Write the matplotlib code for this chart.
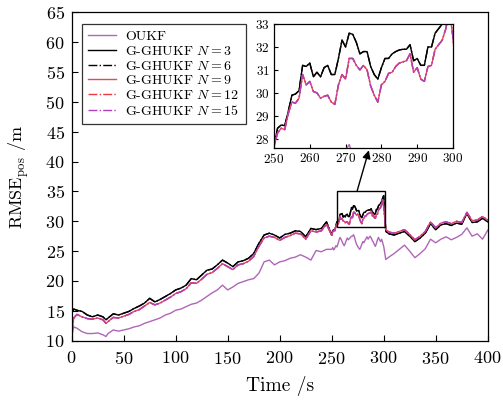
import numpy as np
import matplotlib
matplotlib.use("Agg")
import matplotlib.pyplot as plt
from matplotlib.patches import Rectangle

plt.rcParams['font.family'] = 'serif'
plt.rcParams['font.serif'] = ['cmr10']
plt.rcParams['mathtext.fontset'] = 'cm'
plt.rcParams['axes.formatter.use_mathtext'] = True

# time grid: coarse before 250 s, 1 s inside the zoomed window, coarse after 300 s
t_a = [0, 2, 5, 10, 15, 20, 25, 30, 33, 35, 40, 45, 50, 55, 60, 65, 70, 75, 80, 85,
       90, 95, 100, 105, 110, 115, 120, 125, 130, 135, 140, 145, 150, 155, 160, 165,
       170, 175, 180, 185, 190, 195, 200, 205, 210, 215, 220, 225, 230, 235, 240, 245]
t_b = list(range(250, 301))
t_c = [302, 305, 310, 315, 320, 325, 330, 335, 340, 345, 350, 355, 360, 365, 370,
       375, 380, 385, 390, 395, 400]

# OUKF
oukf_a = [10.7, 12.3, 12.1, 11.5, 11.2, 11.2, 11.3, 11.0, 10.7, 11.2, 11.8, 11.6, 11.8,
          12.0, 12.3, 12.5, 12.9, 13.2, 13.5, 13.8, 14.3, 14.6, 15.1, 15.3, 15.7, 16.1,
          16.3, 16.8, 17.4, 18.0, 18.5, 19.3, 18.5, 19.0, 19.6, 19.9, 20.2, 20.4, 21.3,
          23.2, 23.5, 22.7, 23.2, 23.4, 23.8, 24.0, 24.4, 24.0, 23.5, 25.1, 24.9, 25.3]
oukf_b = [25.3, 25.6, 25.2, 25.5, 25.9, 25.7, 26.2, 26.8, 27.3, 27.0, 26.6, 26.2, 25.9,
          26.3, 26.8, 27.2, 26.9, 27.1, 27.3, 27.5, 27.5, 27.75, 27.3, 26.6, 26.1, 25.8,
          25.5, 25.3, 25.7, 26.2, 26.6, 26.4, 26.8, 27.1, 27.4, 27.0, 27.3, 27.5, 27.2,
          26.8, 26.5, 26.1, 25.8, 26.3, 26.9, 27.3, 26.9, 26.6, 27.0, 26.4, 25.8]
oukf_c = [23.6, 24.0, 24.6, 25.3, 26.0, 25.0, 23.9, 24.6, 25.4, 27.0, 26.4, 27.0, 27.4,
          26.9, 27.3, 27.8, 28.9, 27.5, 27.9, 27.0, 28.5]

# G-GHUKF N = 3
n3_a = [14.6, 15.3, 15.1, 14.9, 14.3, 14.0, 14.3, 14.0, 13.5, 13.8, 14.5, 14.3, 14.6,
        14.9, 15.4, 15.8, 16.3, 17.1, 16.5, 16.9, 17.4, 17.9, 18.5, 18.8, 19.3, 20.4,
        20.2, 21.0, 21.8, 22.0, 22.7, 23.5, 23.0, 22.4, 23.2, 23.4, 23.8, 24.6, 26.3,
        27.7, 28.0, 27.7, 27.2, 27.8, 28.0, 28.4, 28.3, 27.4, 28.8, 28.6, 28.8, 29.9]
n3_b = [27.67, 28.46, 28.6, 28.57, 29.2, 29.9, 29.95, 30.1, 31.2, 31.15, 31.3, 30.7,
        30.9, 30.7, 31.1, 31.2, 30.8, 30.8, 31.5, 32.3, 32.0, 32.6, 32.55, 32.2, 31.7,
        31.8, 31.8, 31.15, 30.8, 30.6, 31.1, 31.5, 31.5, 31.7, 31.8, 31.87, 31.9, 31.9,
        32.1, 31.4, 31.5, 31.2, 31.2, 32.0, 32.0, 32.6, 32.8, 33.0, 33.3, 33.9, 34.3]
n3_c = [28.3, 27.9, 27.7, 28.0, 28.3, 27.5, 26.6, 27.2, 28.0, 29.6, 28.6, 29.4, 29.6,
        29.3, 29.7, 29.5, 31.3, 29.8, 29.9, 30.5, 29.9]

# G-GHUKF N = 9
n9_a = [11.2, 13.8, 14.4, 14.0, 13.7, 13.6, 13.8, 13.5, 12.9, 13.2, 13.9, 13.8, 14.1,
        14.4, 14.9, 15.2, 15.8, 16.4, 16.0, 16.3, 16.8, 17.3, 17.9, 18.2, 18.7, 19.7,
        19.6, 20.3, 21.1, 21.4, 22.1, 22.9, 22.4, 21.9, 22.7, 22.9, 23.3, 24.1, 25.8,
        27.2, 27.5, 27.3, 26.8, 27.3, 27.6, 28.0, 27.9, 27.0, 28.4, 28.2, 28.4, 29.5]
n9_b = [27.67, 28.25, 28.46, 28.4, 29.1, 29.6, 29.55, 29.77, 30.8, 30.35, 30.5, 30.06,
        30.0, 29.77, 29.85, 29.9, 29.6, 29.5, 30.35, 30.8, 30.6, 31.5, 31.5, 31.2, 31.0,
        31.2, 31.0, 30.3, 29.9, 29.6, 30.35, 30.5, 30.85, 30.9, 31.15, 31.3, 31.35, 31.4,
        31.7, 30.9, 31.1, 30.6, 30.5, 31.15, 31.2, 31.9, 32.1, 32.3, 32.8, 33.6, 32.4]
n9_c = [28.6, 28.2, 28.0, 28.3, 28.6, 27.8, 26.9, 27.5, 28.3, 29.9, 28.9, 29.7, 29.9,
        29.6, 30.0, 29.8, 31.5, 30.1, 30.2, 30.8, 30.2]

# N = 6 overlaps N = 3, N = 12 and N = 15 overlap N = 9 at this scale
n6_a, n6_b, n6_c = n3_a, n3_b, n3_c
n12_a, n12_b, n12_c = n9_a, n9_b, n9_c
n15_a, n15_b, n15_c = n9_a, n9_b, n9_c

labels = ['OUKF', 'G-GHUKF $N=3$', 'G-GHUKF $N=6$', 'G-GHUKF $N=9$',
          'G-GHUKF $N=12$', 'G-GHUKF $N=15$']

t = np.array(t_a + t_b + t_c)
series = [oukf_a + oukf_b + oukf_c, n3_a + n3_b + n3_c, n6_a + n6_b + n6_c,
          n9_a + n9_b + n9_c, n12_a + n12_b + n12_c, n15_a + n15_b + n15_c]
styles = [('#b066b8', '-'), ('black', '-'), ('black', '-.'),
          ('#e84a55', '-'), ('#ee3a40', '-.'), ('#b040c0', '-.')]

fig = plt.figure(figsize=(5.03, 4.03), dpi=100)
ax = fig.add_axes([0.1425, 0.1546, 0.8271, 0.8149])
for y, (c, ls), lab in zip(series, styles, labels):
    ax.plot(t, y, color=c, linestyle=ls, linewidth=1.0, label=lab)

ax.set_xlim(0, 400)
ax.set_ylim(10, 65)
ax.set_xticks(np.arange(0, 401, 50))
ax.set_yticks(np.arange(10, 66, 5))
ax.tick_params(direction='in', labelsize=13, length=4, width=0.8)
ax.tick_params(axis='x', pad=7)
ax.tick_params(axis='y', pad=5)
ax.set_xlabel('Time /s', fontsize=14, labelpad=6)
ax.set_ylabel(r'RMSE$_{\mathrm{pos}}$ /m', fontsize=13, labelpad=10)
for s in ax.spines.values():
    s.set_linewidth(0.9)

leg = ax.legend(loc='upper left', bbox_to_anchor=(0.024, 0.9635), borderaxespad=0,
                fontsize=10, frameon=True, fancybox=False, edgecolor='black',
                handlelength=2.0, labelspacing=0.12, handletextpad=0.7,
                borderpad=0.45)
leg.get_frame().set_linewidth(0.9)

# zoom window on the main axes
ax.add_patch(Rectangle((255, 29.1), 46.5, 6.0, fill=False, edgecolor='black',
                       linewidth=1.0, zorder=5))

axins = fig.add_axes([0.5447, 0.6328, 0.3559, 0.3076])
for y, (c, ls) in zip(series, styles):
    axins.plot(t, y, color=c, linestyle=ls, linewidth=1.0)
axins.set_xlim(250, 300)
axins.set_ylim(27.6, 33)
axins.set_xticks(np.arange(250, 301, 10))
axins.set_yticks(np.arange(28, 34, 1))
axins.tick_params(direction='in', labelsize=9.5, length=3, width=0.8, pad=3)
for s in axins.spines.values():
    s.set_linewidth(0.9)

ax.annotate('', xy=(276.5, 27.5), xycoords=axins.transData,
            xytext=(274.5, 35.1), textcoords='data',
            arrowprops=dict(arrowstyle='-|>', color='black', lw=1.0,
                            mutation_scale=12, shrinkA=0, shrinkB=0))

fig.savefig('out.png', dpi=100)
